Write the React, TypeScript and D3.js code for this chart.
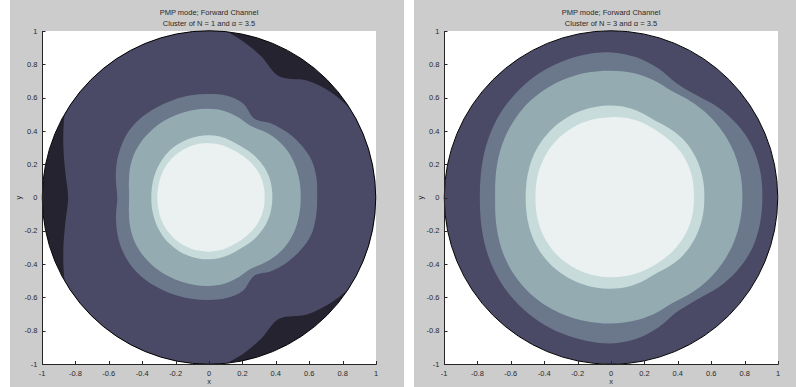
import React from 'react';
import * as d3 from 'd3';

const W = 796;
const H = 387;

// polar sample angles (degrees, counter-clockwise from +x)
const ANGLES = [0, 10, 20, 30, 40, 50, 60, 70, 80, 90, 100, 110, 120, 130, 140, 150, 160, 170, 180,
  190, 200, 210, 220, 230, 240, 250, 260, 270, 280, 290, 300, 310, 320, 330, 340, 350];

const TICKS = [-1, -0.8, -0.6, -0.4, -0.2, 0, 0.2, 0.4, 0.6, 0.8, 1];
const TICK_LABELS = ['-1', '-0.8', '-0.6', '-0.4', '-0.2', '0', '0.2', '0.4', '0.6', '0.8', '1'];

const LEVEL_COLORS = ['#24232f', '#4a4966', '#6b778a', '#93abb1', '#c6dbda', '#ebf1f1'];

// Cluster N = 1 : contour boundary radii
const N1_L1 = [1.14, 1.12, 1.08, 1.01, 0.97, 0.915, 0.84, 0.905, 0.975, 1.04, 1.1, 1.15, 1.18, 1.15, 1.08, 1.0, 0.93, 0.875, 0.845,
  0.875, 0.93, 1.0, 1.08, 1.15, 1.18, 1.15, 1.1, 1.04, 0.975, 0.905, 0.84, 0.915, 0.97, 1.015, 1.08, 1.12];
const N1_L2 = [0.649, 0.655, 0.655, 0.635, 0.61, 0.58, 0.545, 0.6, 0.62, 0.621, 0.622, 0.623, 0.625, 0.628, 0.625, 0.61, 0.59, 0.567, 0.55,
  0.566, 0.588, 0.607, 0.62, 0.624, 0.622, 0.619, 0.616, 0.614, 0.612, 0.595, 0.542, 0.578, 0.608, 0.633, 0.652, 0.652];
const N1_L3 = [0.55, 0.552, 0.552, 0.548, 0.536, 0.516, 0.497, 0.512, 0.527, 0.532, 0.533, 0.533, 0.533, 0.531, 0.527, 0.519, 0.505, 0.488, 0.479,
  0.488, 0.504, 0.518, 0.526, 0.53, 0.531, 0.531, 0.531, 0.53, 0.525, 0.51, 0.495, 0.513, 0.533, 0.546, 0.551, 0.551];
const N1_L4 = [0.38, 0.381, 0.381, 0.377, 0.372, 0.366, 0.362, 0.366, 0.371, 0.373, 0.373, 0.372, 0.37, 0.367, 0.362, 0.357, 0.352, 0.348, 0.346,
  0.348, 0.351, 0.356, 0.361, 0.365, 0.368, 0.37, 0.371, 0.371, 0.369, 0.364, 0.36, 0.364, 0.37, 0.375, 0.379, 0.38];
const N1_L5 = [0.334, 0.335, 0.335, 0.332, 0.327, 0.322, 0.32, 0.321, 0.324, 0.326, 0.327, 0.327, 0.326, 0.324, 0.321, 0.318, 0.314, 0.311, 0.31,
  0.311, 0.314, 0.317, 0.32, 0.322, 0.324, 0.325, 0.325, 0.325, 0.323, 0.32, 0.318, 0.32, 0.325, 0.33, 0.333, 0.334];

// Cluster N = 3
const N3_L2 = [0.908, 0.909, 0.9, 0.875, 0.84, 0.8, 0.79, 0.825, 0.855, 0.87, 0.871, 0.867, 0.86, 0.85, 0.838, 0.823, 0.807, 0.793, 0.787,
  0.793, 0.807, 0.823, 0.838, 0.85, 0.86, 0.867, 0.872, 0.875, 0.862, 0.83, 0.792, 0.8, 0.84, 0.875, 0.9, 0.907];
const N3_L3 = [0.788, 0.789, 0.786, 0.778, 0.766, 0.75, 0.735, 0.748, 0.758, 0.76, 0.762, 0.762, 0.76, 0.755, 0.745, 0.732, 0.717, 0.703, 0.695,
  0.703, 0.717, 0.732, 0.745, 0.753, 0.757, 0.758, 0.757, 0.756, 0.752, 0.745, 0.733, 0.748, 0.764, 0.776, 0.784, 0.787];
const N3_L4 = [0.56, 0.562, 0.563, 0.561, 0.555, 0.543, 0.532, 0.54, 0.548, 0.551, 0.551, 0.55, 0.547, 0.543, 0.537, 0.53, 0.522, 0.515, 0.512,
  0.515, 0.522, 0.53, 0.537, 0.542, 0.545, 0.547, 0.548, 0.547, 0.545, 0.538, 0.53, 0.541, 0.553, 0.559, 0.561, 0.561];
const N3_L5 = [0.497, 0.5, 0.502, 0.501, 0.495, 0.488, 0.485, 0.486, 0.485, 0.482, 0.481, 0.48, 0.478, 0.475, 0.471, 0.466, 0.461, 0.456, 0.453,
  0.456, 0.461, 0.466, 0.47, 0.474, 0.476, 0.477, 0.478, 0.478, 0.479, 0.48, 0.481, 0.485, 0.491, 0.496, 0.499, 0.499];

const FONT = "'Liberation Sans', Arial, Helvetica, sans-serif";
const TEXT = '#2a2a2a';

type PanelProps = {
  id: string;
  gx: number;
  gw: number;
  ox: number;
  title2: string;
  baseColor: string;
  levels: number[][];
  colors: string[];
};

const OY = 31;
const SIZE_X = 334;
const SIZE_Y = 333;

function Panel({ id, gx, gw, ox, title2, baseColor, levels, colors }: PanelProps) {
  const x = d3.scaleLinear().domain([-1, 1]).range([ox, ox + SIZE_X]);
  const y = d3.scaleLinear().domain([-1, 1]).range([OY + SIZE_Y, OY]);
  const cx = x(0);
  const cy = y(0);
  const rPx = d3.scaleLinear().domain([0, 1]).range([0, (SIZE_X + SIZE_Y) / 4]);
  const line = d3
    .lineRadial<number>()
    .angle((_, i) => Math.PI / 2 - (ANGLES[i] * Math.PI) / 180)
    .radius((d) => rPx(d))
    .curve(d3.curveCatmullRomClosed.alpha(0.5));
  const clipId = `clip-${id}`;
  const bottom = OY + SIZE_Y;
  return (
    <g>
      <rect x={gx} y={0} width={gw} height={H} fill="#cccccc" />
      <rect x={ox} y={OY} width={SIZE_X} height={SIZE_Y} fill="#ffffff" />
      <defs>
        <clipPath id={clipId}>
          <circle cx={cx} cy={cy} r={rPx(1)} />
        </clipPath>
      </defs>
      <g clipPath={`url(#${clipId})`}>
        <circle cx={cx} cy={cy} r={rPx(1)} fill={baseColor} />
        {levels.map((lv, i) => (
          <path key={i} d={line(lv) || ''} transform={`translate(${cx},${cy})`} fill={colors[i]} />
        ))}
      </g>
      <circle cx={cx} cy={cy} r={rPx(1)} fill="none" stroke="#000" strokeWidth={1} />
      {/* axes */}
      <line x1={ox + 0.5} x2={ox + 0.5} y1={OY} y2={bottom + 0.5} stroke="#262626" strokeWidth={1} />
      <line x1={ox} x2={ox + SIZE_X + 0.5} y1={bottom + 0.5} y2={bottom + 0.5} stroke="#262626" strokeWidth={1} />
      {TICKS.map((t, i) => (
        <g key={`yt${i}`}>
          <line x1={ox} x2={ox + 3.5} y1={Math.round(y(t)) + 0.5} y2={Math.round(y(t)) + 0.5} stroke="#262626" />
          <text x={ox - 4.5} y={y(t)} dy="0.35em" textAnchor="end" fontSize={7.5} fontFamily={FONT} fill={TEXT}>
            {TICK_LABELS[i]}
          </text>
        </g>
      ))}
      {TICKS.map((t, i) => (
        <g key={`xt${i}`}>
          <line x1={Math.round(x(t)) + 0.5} x2={Math.round(x(t)) + 0.5} y1={bottom + 0.5} y2={bottom - 3} stroke="#262626" />
          <text x={x(t)} y={bottom + 11.5} textAnchor="middle" fontSize={7.5} fontFamily={FONT} fill={TEXT}>
            {TICK_LABELS[i]}
          </text>
        </g>
      ))}
      <text x={cx} y={bottom + 19.5} textAnchor="middle" fontSize={7.5} fontFamily={FONT} fill={TEXT}>x</text>
      <text transform={`translate(${ox - 21},${cy}) rotate(-90)`} textAnchor="middle" fontSize={7.5} fontFamily={FONT} fill={TEXT}>y</text>
      <text x={cx} y={15} textAnchor="middle" fontSize={7.5} fontFamily={FONT} fill={TEXT}>PMP mode; Forward Channel</text>
      <text x={cx} y={26} textAnchor="middle" fontSize={7.5} fontFamily={FONT} fill={TEXT}>{title2}</text>
    </g>
  );
}

export default function App() {
  return (
    <svg
      width={W}
      height={H}
      viewBox={`0 0 ${W} ${H}`}
      style={{ position: 'absolute', left: 0, top: 0, display: 'block' }}
    >
      <rect x={0} y={0} width={W} height={H} fill="#ffffff" />
      <Panel
        id="n1"
        gx={10}
        gw={394}
        ox={42}
        title2="Cluster of N = 1 and α = 3.5"
        baseColor={LEVEL_COLORS[0]}
        levels={[N1_L1, N1_L2, N1_L3, N1_L4, N1_L5]}
        colors={LEVEL_COLORS.slice(1)}
      />
      <Panel
        id="n3"
        gx={414}
        gw={382}
        ox={444}
        title2="Cluster of N = 3 and α = 3.5"
        baseColor={LEVEL_COLORS[1]}
        levels={[N3_L2, N3_L3, N3_L4, N3_L5]}
        colors={LEVEL_COLORS.slice(2)}
      />
    </svg>
  );
}
